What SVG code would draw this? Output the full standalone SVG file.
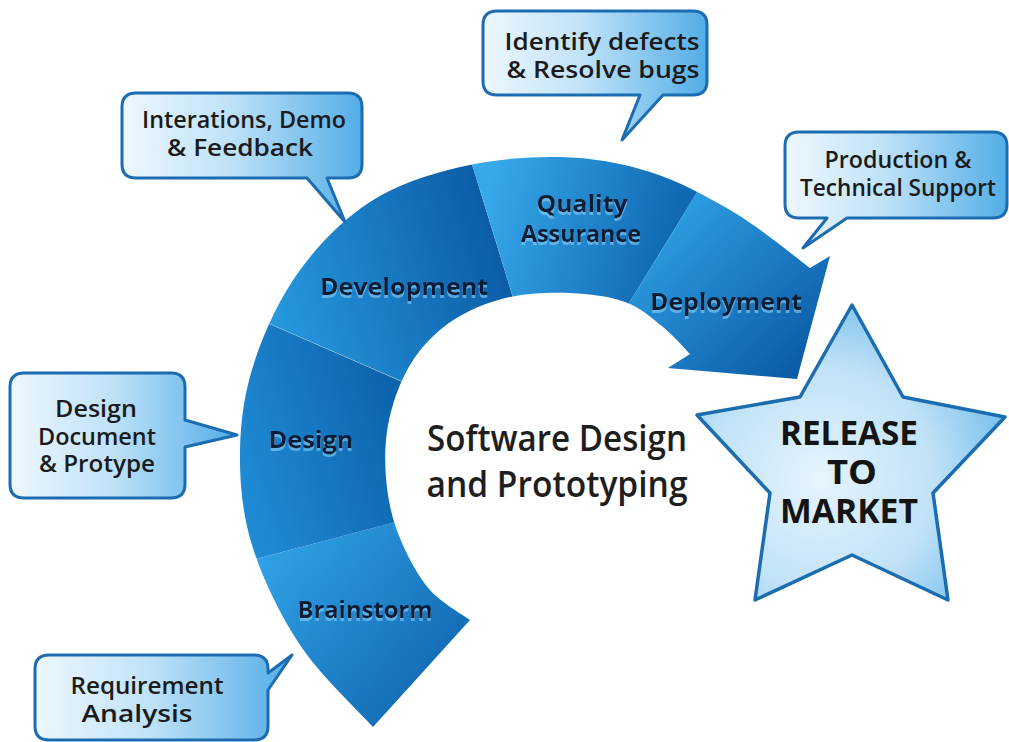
<svg xmlns="http://www.w3.org/2000/svg" width="1009" height="742" viewBox="0 0 1009 742">
  <defs>
    <style>
      .bubble { fill: url(#bubbleFill); stroke: #1b6cb0; stroke-width: 3; stroke-linejoin: round; }
      .btext { font-family: "Open Sans", "Liberation Sans", sans-serif; font-weight: 600; font-size: 23.5px; fill: #1b1b1b; text-anchor: middle; }
      .stage { font-family: "Open Sans", "Liberation Sans", sans-serif; font-weight: 700; font-size: 24px; fill: #0b1c36; text-anchor: middle; filter: url(#lift); }
      .title { font-family: "Open Sans", "Liberation Sans", sans-serif; font-weight: 600; font-size: 36px; fill: #1e1e1e; text-anchor: middle; }
      .star-text { font-family: "Open Sans", "Liberation Sans", sans-serif; font-weight: 700; font-size: 34px; fill: #141414; text-anchor: middle; }
    </style>

    <!-- pale reflection under the stage labels -->
    <filter id="lift" x="-10%" y="-30%" width="120%" height="170%">
      <feOffset in="SourceAlpha" dx="0" dy="2.5" result="off"/>
      <feFlood flood-color="#8fd0f7" flood-opacity="0.6"/>
      <feComposite in2="off" operator="in" result="glow"/>
      <feMerge>
        <feMergeNode in="glow"/>
        <feMergeNode in="SourceGraphic"/>
      </feMerge>
    </filter>

    <linearGradient id="bubbleFill" x1="0" y1="0" x2="1" y2="0">
      <stop offset="0" stop-color="#eef7fd"/>
      <stop offset="0.45" stop-color="#bfe2f8"/>
      <stop offset="1" stop-color="#52ade7"/>
    </linearGradient>
    <radialGradient id="starFill" cx="820" cy="480" r="210" gradientUnits="userSpaceOnUse">
      <stop offset="0" stop-color="#e6f4fc"/>
      <stop offset="0.55" stop-color="#bfe1f7"/>
      <stop offset="1" stop-color="#68b8ea"/>
    </radialGradient>

    <linearGradient id="gBrainstorm" gradientUnits="userSpaceOnUse" x1="260" y1="560" x2="440" y2="710">
      <stop offset="0" stop-color="#30a1e6"/>
      <stop offset="1" stop-color="#0f66b0"/>
    </linearGradient>
    <linearGradient id="gDesign" gradientUnits="userSpaceOnUse" x1="240" y1="470" x2="400" y2="420">
      <stop offset="0" stop-color="#1f8ad4"/>
      <stop offset="1" stop-color="#0e63ad"/>
    </linearGradient>
    <linearGradient id="gDevelopment" gradientUnits="userSpaceOnUse" x1="280" y1="330" x2="510" y2="260">
      <stop offset="0" stop-color="#2698de"/>
      <stop offset="1" stop-color="#0b5ba5"/>
    </linearGradient>
    <linearGradient id="gQuality" gradientUnits="userSpaceOnUse" x1="480" y1="210" x2="665" y2="260">
      <stop offset="0" stop-color="#37a9eb"/>
      <stop offset="1" stop-color="#0f69b3"/>
    </linearGradient>
    <linearGradient id="gDeployment" gradientUnits="userSpaceOnUse" x1="650" y1="220" x2="800" y2="375">
      <stop offset="0" stop-color="#2ea0e5"/>
      <stop offset="1" stop-color="#0b5aa4"/>
    </linearGradient>

    <!-- outline of the curved process arrow -->
    <clipPath id="arcClip">
      <path d="M373,727 C360.8,713.3 320.2,675.3 300,645 C279.8,614.7 262,577.5 252,545 C242,512.5 239.5,480.8 240,450 C240.5,419.2 245,390 255,360 C265,330 280.8,296.3 300,270 C319.2,243.7 343.3,219.2 370,202 C396.7,184.8 428.3,174.5 460,167 C491.7,159.5 528.3,156.2 560,157 C591.7,157.8 620.8,162.7 650,172 C679.2,181.3 708.3,197 735,213 C761.7,229 797.5,258.8 810,268 L830,256 L797,379 L668,368 L690,354 C685.5,349.5 673.8,335.7 663,327 C652.2,318.3 640.5,307.7 625,302 C609.5,296.3 589.2,293.8 570,293 C550.8,292.2 528.3,293.2 510,297 C491.7,300.8 474.7,307.5 460,316 C445.3,324.5 432.3,335.7 422,348 C411.7,360.3 404,374.7 398,390 C392,405.3 387.7,422.5 386,440 C384.3,457.5 385.3,477.8 388,495 C390.7,512.2 395,527.2 402,543 C409,558.8 418.7,577.2 430,590 C441.3,602.8 463.3,615 470,620 Z"/>
    </clipPath>
  </defs>

  <rect width="1009" height="742" fill="#ffffff"/>

  <!-- stages of the process arrow -->
  <g id="stage-brainstorm">
    <polygon clip-path="url(#arcClip)" fill="url(#gBrainstorm)" points="-100,653 600,468 600,760 -100,760"/>
    <text class="stage" x="365" y="618" textLength="135" lengthAdjust="spacingAndGlyphs">Brainstorm</text>
  </g>
  <g id="stage-design">
    <polygon clip-path="url(#arcClip)" fill="url(#gDesign)" points="600,468 -100,163 -100,653"/>
    <text class="stage" x="311" y="448" textLength="85" lengthAdjust="spacingAndGlyphs">Design</text>
  </g>
  <g id="stage-development">
    <polygon clip-path="url(#arcClip)" fill="url(#gDevelopment)" points="560,450 -100,163 -100,-50 406,-50"/>
    <text class="stage" x="404" y="295" textLength="168" lengthAdjust="spacingAndGlyphs">Development</text>
  </g>
  <g id="stage-quality">
    <polygon clip-path="url(#arcClip)" fill="url(#gQuality)" points="553,427 406,-50 846,-50"/>
    <text class="stage" x="582" y="212" textLength="91" lengthAdjust="spacingAndGlyphs">Quality</text>
    <text class="stage" x="581" y="242" textLength="120" lengthAdjust="spacingAndGlyphs">Assurance</text>
  </g>
  <g id="stage-deployment">
    <polygon clip-path="url(#arcClip)" fill="url(#gDeployment)" points="553,427 846,-50 1009,-50 1009,440 553,440"/>
    <text class="stage" x="726" y="310" textLength="152" lengthAdjust="spacingAndGlyphs">Deployment</text>
  </g>

  <!-- centre caption -->
  <g id="title">
    <text class="title" x="557" y="451" textLength="260" lengthAdjust="spacingAndGlyphs">Software Design</text>
    <text class="title" x="557" y="497" textLength="261" lengthAdjust="spacingAndGlyphs">and Prototyping</text>
  </g>

  <!-- goal star -->
  <g id="release-star">
    <polygon points="852,305 903,397 1005,417 933,493 948,600 852,555 755,600 770,493 697,415 800,397" fill="url(#starFill)" stroke="#1b6db0" stroke-width="3.5" stroke-linejoin="round"/>
    <text class="star-text" x="849" y="445" textLength="138" lengthAdjust="spacingAndGlyphs">RELEASE</text>
    <text class="star-text" x="852" y="484" textLength="50" lengthAdjust="spacingAndGlyphs">TO</text>
    <text class="star-text" x="849" y="523" textLength="138" lengthAdjust="spacingAndGlyphs">MARKET</text>
  </g>

  <!-- speech bubbles, each pointing at its stage -->
  <g id="note-development">
    <path class="bubble" d="M136,93 H348 Q362,93 362,107 V164 Q362,178 348,178 H327 L345,222 L307,178 H136 Q122,178 122,164 V107 Q122,93 136,93 Z"/>
    <text class="btext" x="244" y="128" textLength="204" lengthAdjust="spacingAndGlyphs">Interations, Demo</text>
    <text class="btext" x="240" y="156" textLength="146" lengthAdjust="spacingAndGlyphs">&amp; Feedback</text>
  </g>
  <g id="note-quality">
    <path class="bubble" d="M497,11 H693 Q707,11 707,25 V81 Q707,95 693,95 H663 L622,140 L640,95 H497 Q483,95 483,81 V25 Q483,11 497,11 Z"/>
    <text class="btext" x="602" y="50" textLength="195" lengthAdjust="spacingAndGlyphs">Identify defects</text>
    <text class="btext" x="603" y="78" textLength="193" lengthAdjust="spacingAndGlyphs">&amp; Resolve bugs</text>
  </g>
  <g id="note-deployment">
    <path class="bubble" d="M799,132 H993 Q1007,132 1007,146 V204 Q1007,218 993,218 H847 L803,248 L827,218 H799 Q785,218 785,204 V146 Q785,132 799,132 Z"/>
    <text class="btext" x="898" y="168" textLength="147" lengthAdjust="spacingAndGlyphs">Production &amp;</text>
    <text class="btext" x="898" y="196" textLength="196" lengthAdjust="spacingAndGlyphs">Technical Support</text>
  </g>
  <g id="note-design">
    <path class="bubble" d="M24,373 H171 Q185,373 185,387 V420 L237,435 L185,447 V484 Q185,498 171,498 H24 Q10,498 10,484 V387 Q10,373 24,373 Z"/>
    <text class="btext" x="96" y="417" textLength="82" lengthAdjust="spacingAndGlyphs">Design</text>
    <text class="btext" x="97" y="445" textLength="118" lengthAdjust="spacingAndGlyphs">Document</text>
    <text class="btext" x="97" y="472" textLength="116" lengthAdjust="spacingAndGlyphs">&amp; Protype</text>
  </g>
  <g id="note-brainstorm">
    <path class="bubble" d="M49,655 H254 Q268,655 268,669 V673 L292,655 L268,690 V726 Q268,740 254,740 H49 Q35,740 35,726 V669 Q35,655 49,655 Z"/>
    <text class="btext" x="147" y="694" textLength="153" lengthAdjust="spacingAndGlyphs">Requirement</text>
    <text class="btext" x="137" y="722" textLength="111" lengthAdjust="spacingAndGlyphs">Analysis</text>
  </g>

  <g id="connectors"/>
</svg>
